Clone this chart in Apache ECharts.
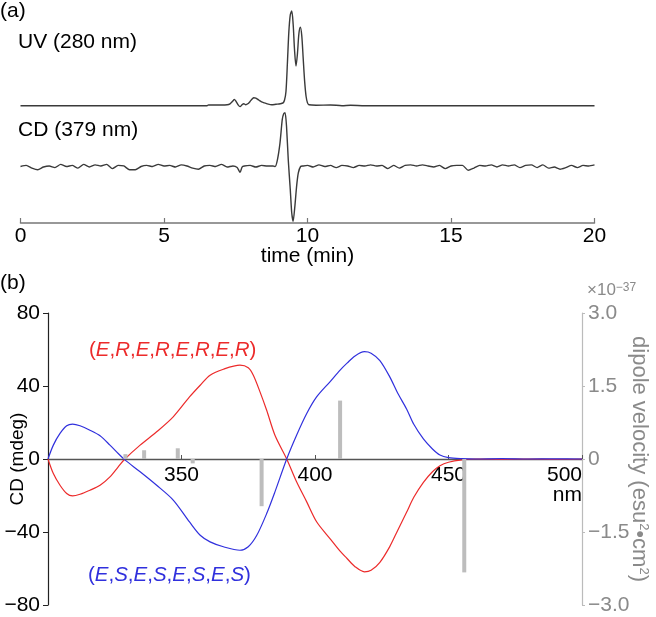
<!DOCTYPE html>
<html>
<head>
<meta charset="utf-8">
<script src="https://cdn.jsdelivr.net/npm/echarts@6/dist/echarts.min.js"></script>
<style>
html,body{margin:0;padding:0;background:#fff;}
#chart{width:656px;height:617px;}
</style>
</head>
<body>
<div id="chart"></div>
<script>
// ---------- Panel (a): chromatograms ----------
var uvTime = [0, 2, 4, 6, 6.5, 6.55, 7.0, 7.2, 7.3, 7.4, 7.45, 7.5, 7.58, 7.65, 7.72, 7.78, 7.85, 7.92, 8.0, 8.07, 8.13, 8.2, 8.3, 8.4, 8.5, 8.6, 8.75, 8.9, 9.05, 9.15, 9.2, 9.25, 9.3, 9.35, 9.4, 9.45, 9.5, 9.55, 9.6, 9.65, 9.7, 9.75, 9.8, 9.85, 9.9, 9.95, 10.0, 10.05, 10.3, 10.8, 11.2, 11.5, 12, 13, 14, 16, 18, 20];
var uvAbs  = [0, 0, 0, 0, 0, 0.008, 0.008, 0.01, 0.02, 0.05, 0.067, 0.05, 0.01, -0.01, 0.01, 0.02, 0.01, 0.02, 0.045, 0.07, 0.084, 0.08, 0.06, 0.04, 0.03, 0.02, 0.01, 0.015, 0.02, 0.03, 0.06, 0.15, 0.45, 0.78, 0.96, 1.0, 0.86, 0.58, 0.42, 0.55, 0.76, 0.83, 0.74, 0.5, 0.26, 0.1, 0.03, 0.01, 0.005, 0.008, 0, 0.005, 0, 0, 0, 0, 0, 0];

var cdTime = [0, 0.2, 0.4, 0.6, 0.8, 1.0, 1.2, 1.4, 1.6, 1.8, 2.0, 2.2, 2.4, 2.6, 2.8, 3.0, 3.2, 3.4, 3.6, 3.8, 4.0, 4.2, 4.4, 4.6, 4.8, 5.0, 5.2, 5.4, 5.6, 5.8, 6.0, 6.2, 6.4, 6.6, 6.8, 7.0, 7.2, 7.4, 7.55, 7.65, 7.72, 7.8, 8.0, 8.2, 8.4, 8.6, 8.8,
  8.87, 8.95, 9.04, 9.12, 9.17, 9.22, 9.27, 9.33, 9.4, 9.45, 9.5, 9.56, 9.62, 9.68, 9.76, 9.85,
  10.0, 10.2, 10.4, 10.6, 10.8, 11.0, 11.2, 11.4, 11.6, 11.8, 12.0, 12.2, 12.4, 12.6, 12.8, 13.0, 13.2, 13.4, 13.6, 13.8, 14.0, 14.2, 14.4, 14.6, 14.8, 15.0, 15.2, 15.4, 15.6, 15.8, 16.0, 16.2, 16.4, 16.6, 16.8, 17.0, 17.2, 17.4, 17.6, 17.8, 18.0, 18.2, 18.4, 18.6, 18.8, 19.0, 19.2, 19.4, 19.6, 19.8, 20.0];
var cdSignal = [0.00, 0.02, -0.03, -0.06, -0.01, 0.01, -0.02, 0.04, 0.00, 0.02, -0.03, 0.04, -0.01, 0.03, 0.01, 0.04, -0.04, 0.02, 0.01, -0.06, -0.06, 0.00, 0.02, 0.00, 0.04, 0.01, 0.02, -0.01, 0.03, 0.01, -0.03, -0.05, 0.01, 0.02, 0.00, 0.04, -0.01, 0.01, -0.02, -0.11, -0.01, 0.01, 0.02, -0.01, 0.02, 0.01, 0.01,
  0.00, 0.12, 0.43, 0.87, 0.98, 1.0, 0.74, 0.12, -0.43, -0.86, -1.02, -0.74, -0.37, -0.12, 0.0, 0.01,
  0.02, -0.01, 0.03, 0.00, 0.02, -0.02, 0.02, 0.01, -0.02, 0.02, 0.01, 0.03, 0.01, 0.02, -0.04, 0.02, -0.03, 0.02, 0.03, 0.01, 0.03, 0.01, -0.01, 0.02, -0.04, 0.01, 0.02, 0.02, -0.07, -0.03, 0.02, 0.01, 0.03, -0.01, 0.03, 0.01, 0.03, -0.02, 0.02, 0.03, -0.02, 0.03, -0.03, -0.01, -0.05, -0.02, 0.02, -0.02, 0.02, 0.01, 0.03];

var timeTicks = [0, 5, 10, 15, 20];

// ---------- Panel (b): CD spectra ----------
var wlER = [300, 302, 304.5, 307, 309.2, 312, 315.7, 319.5, 323.2, 326.3, 328.8, 334.5, 340.7, 346.9, 353, 357, 360.7, 365.7, 371.9, 375, 376.9, 379.4, 381.9, 385, 389.4, 393.1, 396.9, 400.6, 405.6, 409.4, 412, 415, 418.5, 421, 424.3, 428, 431, 434.3, 437, 440.6, 444, 446.8, 450, 455, 460, 470, 480, 490, 500];
var cdER = [0, -8, -14.4, -18.9, -20.2, -19.3, -17.1, -14.4, -9.8, -4.3, 0, 7.6, 14.9, 23.1, 34, 40.4, 45.9, 49.2, 51.4, 50, 45.9, 36.8, 26.7, 13, 0, -12.5, -23.5, -34.4, -43.6, -50.5, -54.5, -59, -61.8, -61, -56.6, -48, -39, -29.2, -21, -12.8, -7, -3.7, -1.8, -0.5, 0, -0.2, 0, -0.2, 0];
var wlES = [300, 302, 304.5, 307, 309.2, 312, 315.7, 319.5, 323.2, 326.3, 328.8, 334.5, 340.7, 346.9, 353, 357, 360.7, 365.7, 371.9, 375, 378.2, 381.9, 385, 389.4, 393.1, 396.9, 400.6, 405.6, 409.4, 412, 415, 418.5, 421, 424.3, 428, 431, 434.3, 437, 440.6, 444, 446.8, 450, 455, 460, 470, 480, 490, 500];
var cdES = [0, 7.6, 14, 18.2, 19.1, 18.2, 15.8, 12.7, 7.6, 3, -0.5, -7, -14.4, -22.5, -34.5, -41.8, -45.4, -48.1, -50, -48.1, -41.8, -29.9, -18, 0, 13, 24.9, 34, 42.3, 48.7, 52.5, 56.5, 58.8, 58, 53.9, 45, 36, 27.4, 19, 11, 5.5, 2.2, 0.8, 0.2, 0, 0.2, 0, 0.1, 0];

var barNm = [329, 336, 348.6, 354.2, 380, 409.4, 455.9];
var barDipole = [0.1, 0.18, 0.22, -0.09, -0.97, 1.2, -2.33];

var cdTicks = [-80, -40, 0, 40, 80];
var dipTicks = [-3.0, -1.5, 0, 1.5, 3.0];
var nmTicks = [350, 400, 450, 500];

function zip(a, b) { return a.map(function (v, i) { return [v, b[i]]; }); }
function minus(s) { return String(s).replace('-', '\u2212'); }

var FONT = '"Liberation Sans", Arial, Helvetica, sans-serif';
var FS = 21;
var RED = '#ec2a2a', BLUE = '#3030dd', GREYT = '#8a8a8a';

var chart = echarts.init(document.getElementById('chart'), null, {renderer: 'canvas'});
chart.setOption({
  animation: false,
  backgroundColor: '#fff',
  textStyle: {fontFamily: FONT},
  grid: [
    {left: 20.5, right: 61.5, top: 11, height: 94.7, outerBoundsMode: 'none', containLabel: false},
    {left: 20.5, right: 61.5, top: 110, height: 113, outerBoundsMode: 'none', containLabel: false},
    {left: 48, right: 74, top: 313, height: 292, outerBoundsMode: 'none', containLabel: false}
  ],
  xAxis: [
    {gridIndex: 0, type: 'value', min: 0, max: 20, show: false},
    {gridIndex: 1, type: 'value', min: 0, max: 20, interval: 5, position: 'bottom',
      axisLine: {onZero: false, lineStyle: {color: '#777', width: 1.5}},
      axisTick: {inside: true, length: 5, lineStyle: {color: '#777', width: 1.2}},
      axisLabel: {color: '#000', fontSize: FS, margin: 3, fontFamily: FONT},
      splitLine: {show: false},
      name: 'time (min)', nameLocation: 'middle', nameGap: 23, nameMoveOverlap: false,
      nameTextStyle: {color: '#000', fontSize: FS, fontFamily: FONT}},
    {gridIndex: 2, type: 'value', min: 300, max: 500, interval: 50, position: 'bottom', offset: -146,
      axisLine: {onZero: false, lineStyle: {color: '#555', width: 1.3}},
      axisTick: {inside: true, length: 4, lineStyle: {color: '#555'}},
      axisLabel: {color: '#000', fontSize: FS, margin: 6, lineHeight: 20, fontFamily: FONT,
        showMinLabel: false, alignMaxLabel: 'right',
        formatter: function (v) { return v === 500 ? '500\nnm' : String(v); }},
      splitLine: {show: false}}
  ],
  yAxis: [
    {gridIndex: 0, type: 'value', min: 0, max: 1, show: false},
    {gridIndex: 1, type: 'value', min: -1.05, max: 1.05, show: false},
    {gridIndex: 2, type: 'value', min: -80, max: 80, interval: 40, position: 'left',
      axisLine: {show: true, onZero: false, lineStyle: {color: '#222', width: 1.2}},
      axisTick: {show: true, inside: false, length: 5, lineStyle: {color: '#222'}},
      axisLabel: {color: '#000', fontSize: FS, margin: 8, fontFamily: FONT, formatter: function (v) { return minus(v); }},
      splitLine: {show: false},
      name: 'CD (mdeg)', nameLocation: 'middle', nameGap: 21, nameRotate: 90, nameMoveOverlap: false,
      nameTextStyle: {color: '#000', fontSize: 19, fontFamily: FONT}},
    {gridIndex: 2, type: 'value', min: -3, max: 3, interval: 1.5, position: 'right',
      axisLine: {show: true, onZero: false, lineStyle: {color: '#bbb', width: 1.2}},
      axisTick: {show: true, inside: false, length: 3, lineStyle: {color: '#bbb'}},
      axisLabel: {color: GREYT, fontSize: FS, margin: 6, fontFamily: FONT,
        formatter: function (v) { return v === 0 ? '0' : (v < 0 ? '\u2212' : '') + Math.abs(v).toFixed(1); }},
      splitLine: {show: false},
      name: 'dipole velocity (esu{s|2}\u2022cm{s|2})', nameLocation: 'middle', nameGap: 46, nameRotate: -90, nameMoveOverlap: false,
      nameTextStyle: {color: GREYT, fontSize: 22, fontFamily: FONT,
        rich: {s: {fontSize: 13, color: GREYT, verticalAlign: 'top', fontFamily: FONT}}}}
  ],
  series: [
    {type: 'line', xAxisIndex: 0, yAxisIndex: 0, data: zip(uvTime, uvAbs), showSymbol: false, symbol: 'none',
      smooth: 0.3, clip: false, lineStyle: {color: '#3a3a3a', width: 1.4}},
    {type: 'line', xAxisIndex: 1, yAxisIndex: 1, data: zip(cdTime, cdSignal), showSymbol: false, symbol: 'none',
      smooth: 0.2, clip: false, lineStyle: {color: '#3a3a3a', width: 1.4}},
    {type: 'line', xAxisIndex: 2, yAxisIndex: 2, data: zip(wlER, cdER), showSymbol: false, symbol: 'none',
      smooth: 0.3, clip: false, lineStyle: {color: RED, width: 1.2}, z: 3},
    {type: 'line', xAxisIndex: 2, yAxisIndex: 2, data: zip(wlES, cdES), showSymbol: false, symbol: 'none',
      smooth: 0.3, clip: false, lineStyle: {color: BLUE, width: 1.2}, z: 3},
    {type: 'bar', xAxisIndex: 2, yAxisIndex: 3, data: zip(barNm, barDipole), barWidth: 4,
      itemStyle: {color: '#bdbdbd'}, z: 4}
  ],
  graphic: [
    {type: 'text', x: 0, y: 11, style: {text: '(a)', fill: '#000', fontSize: FS, fontFamily: FONT, verticalAlign: 'middle'}},
    {type: 'text', x: 0, y: 283, style: {text: '(b)', fill: '#000', fontSize: FS, fontFamily: FONT, verticalAlign: 'middle'}},
    {type: 'text', x: 18, y: 42, style: {text: 'UV (280 nm)', fill: '#000', fontSize: FS, fontFamily: FONT, verticalAlign: 'middle'}},
    {type: 'text', x: 18, y: 130, style: {text: 'CD (379 nm)', fill: '#000', fontSize: FS, fontFamily: FONT, verticalAlign: 'middle'}},
    {type: 'text', x: 89, y: 350, style: {text: '({i|E},{i|R},{i|E},{i|R},{i|E},{i|R},{i|E},{i|R})', fill: RED, fontSize: 20.5, fontFamily: FONT, verticalAlign: 'middle',
      rich: {i: {fontStyle: 'italic', fill: RED, fontSize: 20.5, fontFamily: FONT}}}},
    {type: 'text', x: 88, y: 575, style: {text: '({i|E},{i|S},{i|E},{i|S},{i|E},{i|S},{i|E},{i|S})', fill: BLUE, fontSize: 20.5, fontFamily: FONT, verticalAlign: 'middle',
      rich: {i: {fontStyle: 'italic', fill: BLUE, fontSize: 20.5, fontFamily: FONT}}}},
    {type: 'text', x: 587, y: 290, style: {text: '\u00d710{s|\u221237}', fill: GREYT, fontSize: 17, fontFamily: FONT, verticalAlign: 'middle',
      rich: {s: {fontSize: 12, fill: GREYT, verticalAlign: 'top', fontFamily: FONT}}}}
  ]
});
</script>
</body>
</html>
